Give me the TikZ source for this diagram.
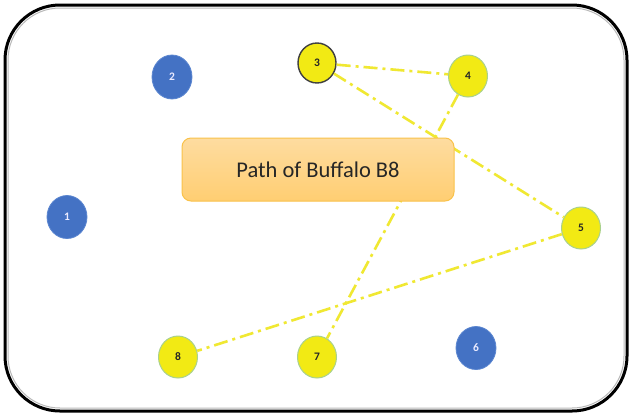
\documentclass[tikz,border=0pt]{standalone}
\usepackage{fontspec}
\setmainfont{Carlito}
\usetikzlibrary{shapes.geometric}
\definecolor{stopY}{HTML}{F2EA14}
\definecolor{stopEdge}{HTML}{A9D18E}
\definecolor{stopB}{HTML}{4472C4}
\definecolor{stopBEdge}{HTML}{5B86D0}
\definecolor{routeY}{HTML}{F0E832}
\definecolor{boxTop}{HTML}{FEDCA0}
\definecolor{boxBot}{HTML}{FFCE72}
\definecolor{boxEdge}{HTML}{F9C24A}
\tikzset{
  stop/.style={ellipse, draw=stopEdge, line width=1pt, fill=stopY,
    minimum width=39pt, minimum height=42pt, inner sep=0pt,
    font=\fontsize{11.5}{11.5}\selectfont\bfseries, text=black!85},
  idle/.style={ellipse, draw=stopBEdge, line width=0.8pt, fill=stopB,
    minimum width=40pt, minimum height=43pt, inner sep=0pt,
    font=\fontsize{11.5}{11.5}\selectfont\bfseries, text=white!92!blue},
  route/.style={draw=routeY, line width=2.6pt,
    dash pattern=on 14pt off 5pt on 3pt off 5pt},
  titlebox/.style={draw=boxEdge, line width=1pt, rounded corners=9pt,
    top color=boxTop, bottom color=boxBot,
    minimum width=272pt, minimum height=63pt,
    font=\fontsize{22.5}{22.5}\selectfont, text=black!85},
}
\begin{document}
\begin{tikzpicture}[x=1pt, y=-1pt]
  \useasboundingbox (0,0) rectangle (631,416);
  \fill[white] (0,0) rectangle (631,416);
  % enclosure
  \draw[black, line width=3pt, rounded corners=55pt] (5,5) rectangle (627,411);
  \draw[gray!55, line width=1pt, rounded corners=52pt] (8,8) rectangle (624,408);

  % stations
  \node[idle] (n1) at (67,217) {1};
  \node[idle, minimum width=40pt, minimum height=44pt] (n2) at (172,77) {2};
  \node[stop, draw=black!75, line width=1.4pt, minimum width=38pt, minimum height=40pt] (n3) at (317,63) {3};
  \node[stop] (n4) at (468,76) {4};
  \node[stop] (n5) at (581,228) {5};
  \node[idle] (n6) at (476,348) {6};
  \node[stop] (n7) at (317,357) {7};
  \node[stop] (n8) at (178,357) {8};

  % route of the buffalo
  \draw[route] (n3) -- (n4);
  \draw[route] (n3) -- (n5);
  \draw[route] (n4) -- (n7);
  \draw[route] (n5) -- (n8);

  % title
  \node[titlebox] (title) at (318,169.5) {Path of Buffalo B8};
\end{tikzpicture}
\end{document}
